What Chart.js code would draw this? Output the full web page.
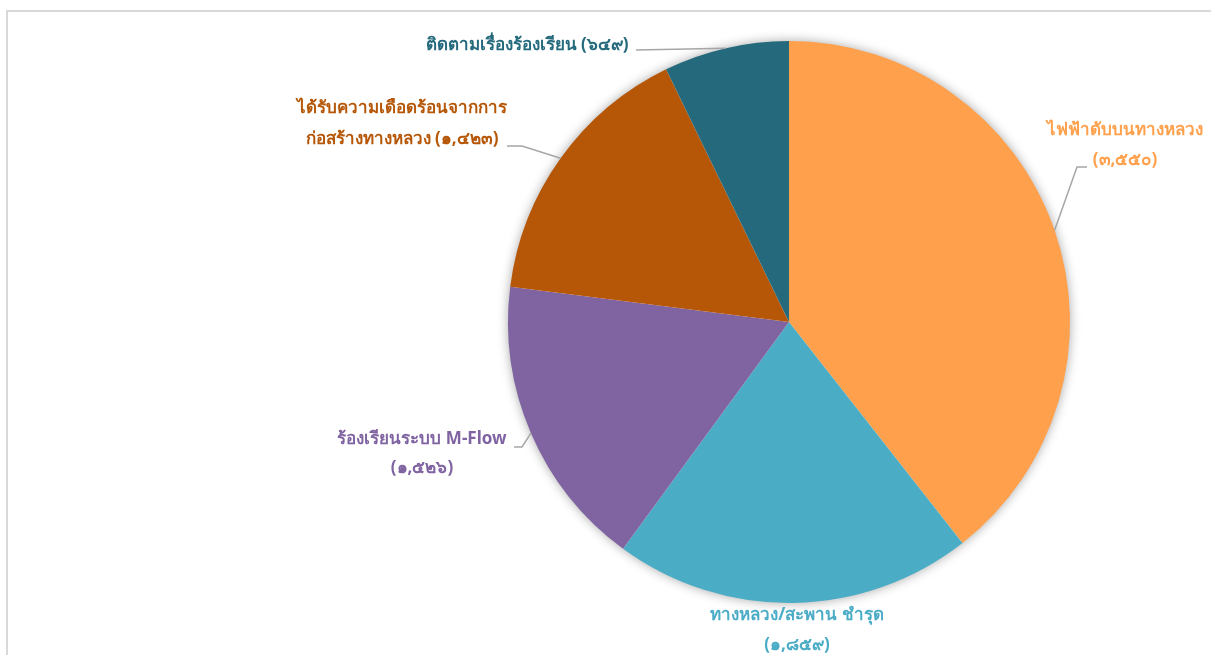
<!DOCTYPE html>
<html lang="th">
<head>
  <meta charset="UTF-8" />
  <title>เรื่องร้องเรียน</title>
  <script src="https://cdn.jsdelivr.net/npm/chart.js"></script>
  <style>
    html, body { margin: 0; padding: 0; background: #fff; overflow: hidden; }
    #wrap { width: 1211px; height: 655px; position: relative; }
  </style>
</head>
<body>
  <div id="wrap"><canvas id="pieChart" width="1211" height="655"></canvas></div>

  <script>
    // ข้อมูล
    const categories = [
      'ไฟฟ้าดับบนทางหลวง',
      'ทางหลวง/สะพาน ชำรุด',
      'ร้องเรียนระบบ M-Flow',
      'ได้รับความเดือดร้อนจากการก่อสร้างทางหลวง',
      'ติดตามเรื่องร้องเรียน'
    ];
    const counts = [3550, 1859, 1526, 1423, 649];
    const colors = ['#FFA04C', '#4BACC6', '#8064A2', '#B65708', '#246A7C'];

    // ป้ายกำกับ (บรรทัดข้อความ) ตำแหน่งสัมพัทธ์กับจุดศูนย์กลางวงกลม
    const labelLayout = [
      { lines: ['ไฟฟ้าดับบนทางหลวง', '{v}'], dx: 336, dy: -192, gap: 30, leader: [[298, -155], [288, -155]] },
      { lines: ['ทางหลวง/สะพาน ชำรุด', '{v}'], dx: 8, dy: 293, gap: 30, leader: null },
      { lines: ['ร้องเรียนระบบ M-Flow', '{v}'], dx: -367, dy: 117, gap: 29, leader: [[-275, 125], [-267, 125]] },
      { lines: ['ได้รับความเดือดร้อนจากการ', 'ก่อสร้างทางหลวง {v}'], dx: -387, dy: -214, gap: 31, leader: [[-282, -176], [-267, -176]] },
      { lines: ['ติดตามเรื่องร้องเรียน {v}'], dx: -262, dy: -277, gap: 0, leader: [[-153, -272]] }
    ];

    const thaiDigits = '๐๑๒๓๔๕๖๗๘๙';
    function toThai(n) {
      return '(' + n.toLocaleString('en-US').replace(/[0-9]/g, d => thaiDigits[d]) + ')';
    }

    const FONT = 'bold 17px "Noto Sans", "DejaVu Sans", sans-serif';

    const framePlugin = {
      id: 'frame',
      beforeDraw(chart) {
        const ctx = chart.ctx;
        ctx.save();
        ctx.strokeStyle = '#d9d9d9';
        ctx.lineWidth = 2;
        ctx.strokeRect(7, 11, 1300, 800);
        ctx.restore();
      }
    };

    const shadowPlugin = {
      id: 'pieShadow',
      beforeDatasetsDraw(chart) {
        const arc = chart.getDatasetMeta(0).data[0];
        if (!arc) return;
        const ctx = chart.ctx;
        ctx.save();
        ctx.shadowColor = 'rgba(0,0,0,0.4)';
        ctx.shadowBlur = 12;
        ctx.beginPath();
        ctx.arc(arc.x, arc.y, arc.outerRadius - 1, 0, Math.PI * 2);
        ctx.fillStyle = '#ffffff';
        ctx.fill();
        ctx.restore();
      }
    };

    const labelPlugin = {
      id: 'sliceLabels',
      afterDatasetsDraw(chart) {
        const ctx = chart.ctx;
        const meta = chart.getDatasetMeta(0);
        ctx.save();
        ctx.font = FONT;
        ctx.textAlign = 'center';
        ctx.textBaseline = 'middle';
        meta.data.forEach((arc, i) => {
          const lay = labelLayout[i];
          const cx = arc.x, cy = arc.y;
          const mid = (arc.startAngle + arc.endAngle) / 2;
          const r = arc.outerRadius;
          const px = cx + Math.cos(mid) * r;
          const py = cy + Math.sin(mid) * r;

          if (lay.leader) {
            ctx.strokeStyle = '#a6a6a6';
            ctx.lineWidth = 1.5;
            ctx.beginPath();
            lay.leader.forEach((p, k) => {
              if (k === 0) ctx.moveTo(cx + p[0], cy + p[1]);
              else ctx.lineTo(cx + p[0], cy + p[1]);
            });
            ctx.lineTo(px, py);
            ctx.stroke();
          }

          ctx.fillStyle = colors[i];
          lay.lines.forEach((t, k) => {
            const txt = t.replace('{v}', toThai(counts[i]));
            ctx.fillText(txt, cx + lay.dx, cy + lay.dy + k * lay.gap);
          });
        });
        ctx.restore();
      }
    };

    new Chart(document.getElementById('pieChart'), {
      type: 'pie',
      data: {
        labels: categories,
        datasets: [{
          data: counts,
          backgroundColor: colors,
          borderWidth: 0
        }]
      },
      options: {
        responsive: false,
        animation: false,
        layout: { padding: { top: 41, bottom: 52, left: 508, right: 141 } },
        plugins: {
          legend: { display: false },
          tooltip: { enabled: false }
        }
      },
      plugins: [framePlugin, shadowPlugin, labelPlugin]
    });
  </script>
</body>
</html>
